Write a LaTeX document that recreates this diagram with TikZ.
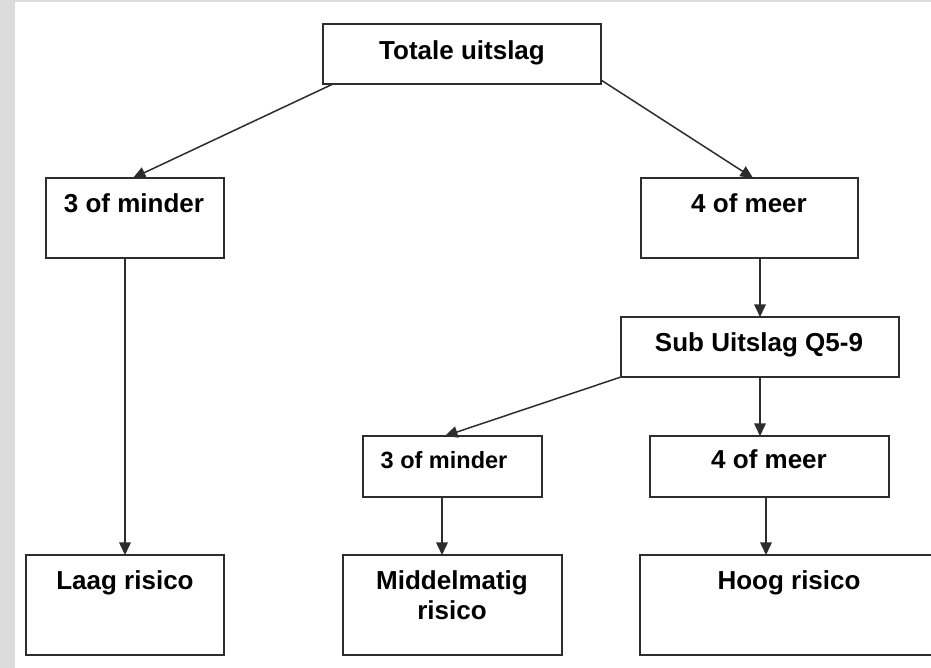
\documentclass[tikz,border=0pt]{standalone}
\usepackage{fontspec}
\setmainfont{Liberation Sans}
\usetikzlibrary{arrows.meta}
\definecolor{pagegrey}{RGB}{220,220,220}
\definecolor{linegrey}{RGB}{45,45,45}
\tikzset{
  box/.style={draw=linegrey, line width=1.8pt, rectangle, inner sep=0pt, outer sep=0pt},
  lab/.style={anchor=base, inner sep=0pt, font=\fontsize{26}{30}\selectfont\bfseries, text=black},
  smalllab/.style={lab, font=\fontsize{23.5}{28}\selectfont\bfseries},
  conn/.style={draw=linegrey, line width=1.5pt, -{Triangle[length=12.5pt,width=11.5pt]}}
}
\begin{document}
\begin{tikzpicture}[x=1pt,y=1pt]
\useasboundingbox (0,0) rectangle (931,668);
\fill[pagegrey] (0,0) rectangle (931,668);
\fill[white] (15,0) rectangle (931,666);

% boxes
\node[box, minimum width=278pt, minimum height=60pt] (T) at (462,614) {};
\node[box, minimum width=178pt, minimum height=80pt] (L1) at (135,450) {};
\node[box, minimum width=217pt, minimum height=80pt] (R1) at (749.5,450) {};
\node[box, minimum width=278pt, minimum height=60pt] (S) at (760,321) {};
\node[box, minimum width=179pt, minimum height=61pt] (M2) at (452.5,201.5) {};
\node[box, minimum width=239pt, minimum height=61pt] (R2) at (769.5,201.5) {};
\node[box, minimum width=198pt, minimum height=100pt] (LR) at (125,63) {};
\node[box, minimum width=219pt, minimum height=100pt] (MR) at (452.5,63) {};
\node[box, minimum width=298pt, minimum height=100pt] (HR) at (789,63) {};

% texts
\node[lab] (tT) at (462,608) {Totale uitslag};
\node[lab] (tL1) at (134,455) {3 of minder};
\node[lab] (tR1) at (749,455) {4 of meer};
\node[lab] (tS) at (759,316) {Sub Uitslag Q5-9};
\node[smalllab] (tM2) at (444,199) {3 of minder};
\node[lab] (tR2) at (769,199) {4 of meer};
\node[lab] (tLR) at (125,78) {Laag risico};
\node[lab] (tMR1) at (452,78) {Middelmatig};
\node[lab] (tMR2) at (452,48) {risico};
\node[lab] (tHR) at (789,78) {Hoog risico};

% connectors
\draw[conn] ([xshift=10pt]T.south west) -- ([xshift=-2pt]L1.north);
\draw[conn] ([yshift=4pt]T.south east) -- ([xshift=3.5pt]R1.north);
\draw[conn] ([xshift=10.5pt]R1.south) -- (S.north);
\draw[conn] (S.south west) -- ([xshift=-7.5pt]M2.north);
\draw[conn] (S.south) -- (S.south |- R2.north);
\draw[conn] (L1.south -| LR.north) -- (LR.north);
\draw[conn] ([xshift=-10.5pt]M2.south) -- ([xshift=-10.5pt]MR.north);
\draw[conn] ([xshift=-3.5pt]R2.south) -- ([xshift=-3.5pt]R2.south |- HR.north);
\end{tikzpicture}
\end{document}
